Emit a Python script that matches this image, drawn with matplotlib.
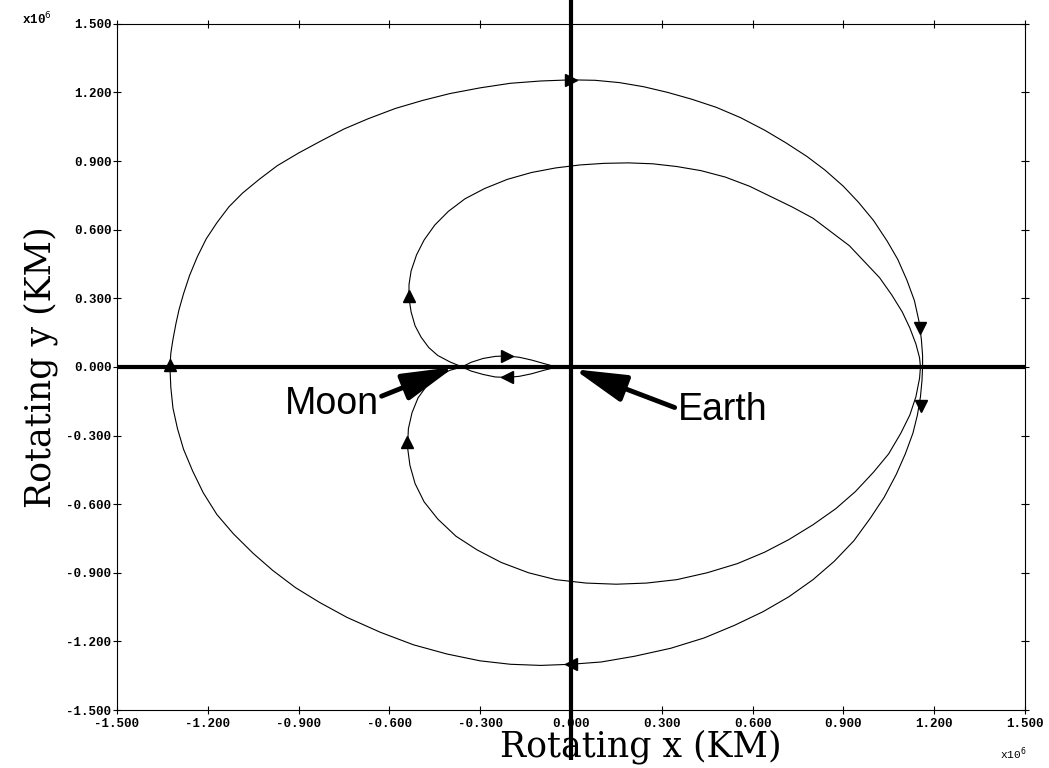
import matplotlib
matplotlib.use('Agg')
import matplotlib.pyplot as plt

# trajectory values in units of 1e6 km
outer_x = [-1.325, -1.322, -1.315, -1.305, -1.295, -1.28, -1.26, -1.235, -1.205, -1.17, -1.13,
           -1.085, -1.03, -0.97, -0.90, -0.83, -0.75, -0.67, -0.58, -0.49, -0.40, -0.30, -0.20,
           -0.10, 0.00, 0.08, 0.16, 0.24, 0.32, 0.40, 0.48, 0.56, 0.64, 0.71, 0.78, 0.84, 0.90,
           0.95, 1.00, 1.045, 1.08, 1.11, 1.135, 1.15, 1.158, 1.162, 1.162,
           1.160, 1.155, 1.145, 1.13, 1.105, 1.075, 1.035, 0.99, 0.935, 0.87, 0.80, 0.72, 0.635,
           0.54, 0.44, 0.33, 0.21, 0.10, 0.00, -0.10, -0.20, -0.30, -0.41, -0.52, -0.63, -0.74,
           -0.83, -0.91, -0.985, -1.05, -1.115, -1.17, -1.215, -1.25, -1.28, -1.30, -1.315,
           -1.322, -1.325]
outer_y = [0.00, 0.06, 0.12, 0.19, 0.25, 0.32, 0.40, 0.48, 0.56, 0.63, 0.70,
           0.76, 0.82, 0.88, 0.935, 0.985, 1.04, 1.085, 1.13, 1.165, 1.195, 1.22, 1.24,
           1.25, 1.255, 1.253, 1.243, 1.225, 1.20, 1.17, 1.135, 1.09, 1.035, 0.98, 0.92, 0.86, 0.79,
           0.72, 0.64, 0.55, 0.47, 0.38, 0.29, 0.20, 0.12, 0.05, 0.00,
           -0.06, -0.13, -0.21, -0.29, -0.38, -0.47, -0.57, -0.66, -0.76, -0.85, -0.93, -1.005, -1.07,
           -1.13, -1.185, -1.23, -1.265, -1.29, -1.30, -1.305, -1.30, -1.285, -1.255, -1.215, -1.16, -1.095,
           -1.03, -0.965, -0.89, -0.815, -0.73, -0.645, -0.55, -0.455, -0.36, -0.27, -0.18,
           -0.09, 0.00]

inner_x = [-0.36, -0.33, -0.29, -0.25, -0.21, -0.17, -0.13, -0.09, -0.06, -0.045,
           -0.06, -0.09, -0.13, -0.17, -0.21, -0.25, -0.29, -0.33, -0.36,
           -0.40, -0.44, -0.47, -0.495, -0.515, -0.528, -0.535, -0.535, -0.528, -0.51, -0.485,
           -0.45, -0.405, -0.35, -0.285, -0.21, -0.13, -0.05, 0.03, 0.11, 0.19, 0.27, 0.35, 0.43,
           0.51, 0.59, 0.66, 0.73, 0.80, 0.86, 0.92, 0.97, 1.02, 1.06, 1.095, 1.12, 1.14, 1.152, 1.155,
           1.152, 1.14, 1.12, 1.09, 1.05, 1.00, 0.94, 0.875, 0.80, 0.72, 0.64, 0.55, 0.45, 0.35,
           0.25, 0.15, 0.05, -0.05, -0.14, -0.23, -0.31, -0.38, -0.44, -0.485, -0.515, -0.532,
           -0.54, -0.537, -0.525, -0.505, -0.475, -0.44, -0.40, -0.36]
inner_y = [0.00, 0.02, 0.037, 0.046, 0.048, 0.042, 0.03, 0.015, 0.004, 0.0,
           -0.005, -0.015, -0.03, -0.041, -0.046, -0.044, -0.033, -0.018, 0.0,
           0.022, 0.05, 0.085, 0.13, 0.18, 0.24, 0.30, 0.36, 0.42, 0.49, 0.555,
           0.62, 0.68, 0.735, 0.78, 0.82, 0.85, 0.87, 0.883, 0.89, 0.892, 0.888, 0.876, 0.858,
           0.83, 0.79, 0.745, 0.70, 0.65, 0.59, 0.53, 0.46, 0.39, 0.315, 0.24, 0.17, 0.10, 0.04, 0.00,
           -0.05, -0.13, -0.21, -0.29, -0.38, -0.46, -0.545, -0.62, -0.69, -0.755, -0.81, -0.86, -0.90, -0.93,
           -0.945, -0.95, -0.945, -0.93, -0.90, -0.855, -0.80, -0.74, -0.665, -0.59, -0.51, -0.43,
           -0.35, -0.27, -0.20, -0.135, -0.08, -0.04, -0.015, 0.00]

# direction arrows on the trajectory
arrow_x = [0.0, 0.0, -1.325, 1.155, 1.157, -0.535, -0.54, -0.21, -0.21]
arrow_y = [1.255, -1.30, 0.01, 0.17, -0.17, 0.31, -0.33, 0.048, -0.046]
arrow_mk = ['>', '<', '^', 'v', 'v', '^', '^', '>', '<']

ticks = [-1.5, -1.2, -0.9, -0.6, -0.3, 0.0, 0.3, 0.6, 0.9, 1.2, 1.5]
tick_labels = ['%.3f' % t for t in ticks]

fig = plt.figure(figsize=(10.49, 7.68), dpi=100)
ax = fig.add_axes([0.1115, 0.0755, 0.8655, 0.8935])

ax.plot(outer_x, outer_y, color='black', lw=0.8)
ax.plot(inner_x, inner_y, color='black', lw=0.8)
for x, y, m in zip(arrow_x, arrow_y, arrow_mk):
    ax.plot(x, y, marker=m, color='black', ms=8, ls='none')

# thick rotating-frame axes
ax.plot([-1.5, 1.5], [0, 0], color='black', lw=3, solid_capstyle='butt')
ax.plot([0, 0], [-1.72, 1.62], color='black', lw=3, clip_on=False, solid_capstyle='butt')

# Moon / Earth labels with arrows
head = '-|>,head_length=1.6,head_width=0.42'
ax.annotate('Moon', xy=(-0.385, 0.0), xytext=(-0.79, -0.16), fontsize=27,
            family='Liberation Sans', ha='center', va='center',
            arrowprops=dict(arrowstyle=head, lw=3.5, color='black', mutation_scale=20,
                            shrinkA=0, shrinkB=0, relpos=(0.95, 0.62)))
ax.annotate('Earth', xy=(0.01, -0.01), xytext=(0.50, -0.19), fontsize=27,
            family='Liberation Sans', ha='center', va='center',
            arrowprops=dict(arrowstyle=head, lw=3.5, color='black', mutation_scale=20,
                            shrinkA=0, shrinkB=0, relpos=(0.0, 0.55)))

ax.set_xlim(-1.5, 1.5)
ax.set_ylim(-1.5, 1.5)
ax.set_xticks(ticks)
ax.set_yticks(ticks)
ax.set_xticklabels(tick_labels)
ax.set_yticklabels(tick_labels)
ax.tick_params(direction='inout', length=6, width=0.8, top=True, right=True,
               labelsize=9, pad=1)
ax.tick_params(axis='x', pad=3)
for lab in ax.get_xticklabels() + ax.get_yticklabels():
    lab.set_family('Liberation Mono')
    lab.set_fontweight('bold')
for sp in ax.spines.values():
    sp.set_linewidth(0.8)

ax.set_xlabel('Rotating x (KM)', family='DejaVu Serif', fontsize=25)
ax.xaxis.set_label_coords(0.577, -0.029)
ax.set_ylabel('Rotating y (KM)', family='DejaVu Serif', fontsize=25, labelpad=6)

fig.text(0.021, 0.968, r'x10$^{6}$', fontsize=9, family='Liberation Mono', fontweight='bold')
fig.text(0.953, 0.012, r'x10$^{6}$', fontsize=8, family='Liberation Mono')

fig.savefig('out.png', dpi=100)
